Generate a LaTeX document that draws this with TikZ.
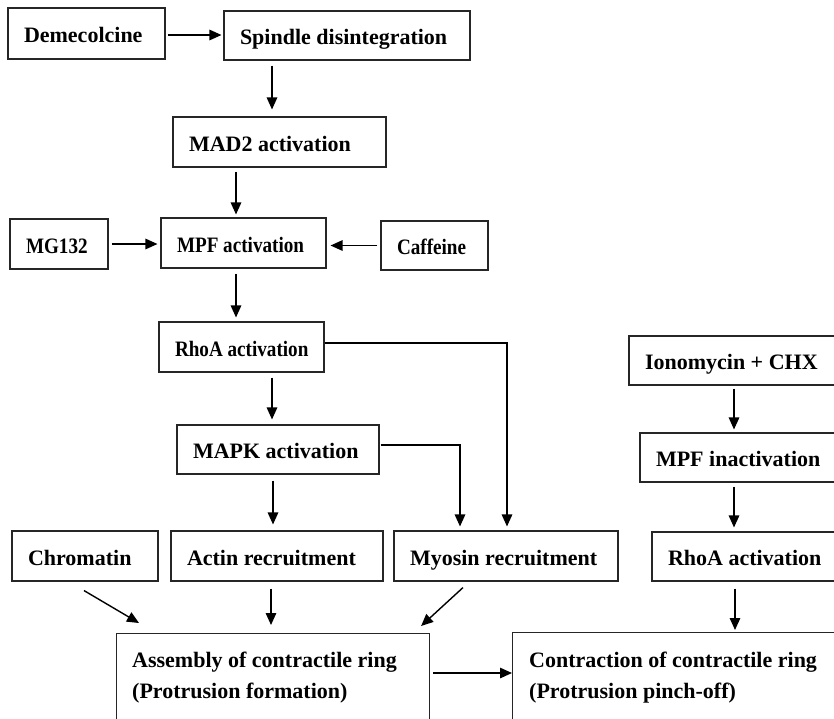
\documentclass[tikz,border=0pt]{standalone}
\usepackage{fontspec}
\setmainfont{Liberation Serif}
\usetikzlibrary{arrows.meta,calc}
\tikzset{
  box/.style={draw=black!85, line width=1.1pt, inner xsep=16pt, inner ysep=0pt, align=flush left,
              text height=18pt, text depth=0pt,
              font=\fontsize{22}{31}\selectfont\bfseries},
  arr/.style={line width=1.4pt, -{Triangle[length=12pt,width=10.5pt]}, shorten <=4pt, shorten >=4pt},
  lbl/.style={anchor=north west, inner sep=0pt, align=flush left, font=\fontsize{22}{31}\selectfont\bfseries}
}
\newcommand{\narrowtxt}[1]{\scalebox{0.87}[1]{#1}}
\begin{document}
\begin{tikzpicture}[x=1pt,y=-1pt]
\useasboundingbox (0,0) rectangle (834,718);
\clip (0,0) rectangle (834,718);
\fill[white] (0,0) rectangle (834,718);

\node[box, text width=125pt, minimum height=51pt] (dem) at (86.5,33.5) {Demecolcine};
\node[box, text width=214pt, minimum height=49pt] (spin) at (347,35.5) {Spindle disintegration};
\node[box, text width=181pt, minimum height=50pt] (mad) at (279.5,142) {MAD2 activation};
\node[box, text width=66pt, minimum height=50pt] (mg) at (59,244) {\narrowtxt{MG132}};
\node[box, text width=133pt, minimum height=50pt] (mpf) at (243.5,243) {\narrowtxt{MPF activation}};
\node[box, text width=75pt, minimum height=49pt] (caf) at (434.5,245.5) {\narrowtxt{Caffeine}};
\node[box, text width=133pt, minimum height=50pt] (rhoa) at (241.5,347) {\narrowtxt{RhoA activation}};
\node[box, text width=170pt, minimum height=49pt] (mapk) at (278,449.5) {MAPK activation};
\node[box, text width=189pt, minimum height=49pt] (iono) at (739.5,360.5) {Ionomycin + CHX};
\node[box, text width=178pt, minimum height=49pt] (mpfi) at (745,457.5) {MPF inactivation};
\node[box, text width=114pt, minimum height=50pt] (chrom) at (85,556) {Chromatin};
\node[box, text width=180pt, minimum height=50pt] (actin) at (277,556) {Actin recruitment};
\node[box, text width=192pt, minimum height=50pt] (myo) at (506,556) {Myosin recruitment};
\node[box, text width=166pt, minimum height=49pt] (rhoa2) at (751,556.5) {RhoA activation};

\node[draw=black!85, line width=1.1pt, anchor=north west, minimum width=313pt, minimum height=127pt, inner sep=0pt] (asm) at (116,633) {};
\node[draw=black!85, line width=1.1pt, anchor=north west, minimum width=338pt, minimum height=128pt, inner sep=0pt] (con) at (512,632) {};
\node[lbl] (asmtxt) at (132,652) {Assembly of contractile ring\\(Protrusion formation)};
\node[lbl] (contxt) at (529,652) {Contraction of contractile ring\\(Protrusion pinch-off)};

\draw[arr, shorten <=2pt, shorten >=2pt] (dem.east |- 0,35) -- (spin.west |- 0,35);
\draw[arr, shorten <=5pt, shorten >=7pt] (spin.south -| 272,0) -- (mad.north -| 272,0);
\draw[arr, shorten >=3pt] (mad.south -| 236,0) -- (mpf.north -| 236,0);
\draw[arr, shorten <=3pt, shorten >=3pt] (mg.east) -- (mg.east -| mpf.west);
\draw[arr, shorten <=3pt, shorten >=4pt] (caf.west) -- (caf.west -| mpf.east);
\draw[arr, shorten <=5pt] (mpf.south -| 236,0) -- (rhoa.north -| 236,0);
\draw[arr, shorten <=5pt, shorten >=5pt] (rhoa.south -| 272,0) -- (mapk.north -| 272,0);
\draw[arr, shorten <=0pt] (rhoa.east |- 0,343) -| (myo.north -| 507,0);
\draw[arr, shorten <=1pt] (mapk.east |- 0,445) -| (myo.north -| 460,0);
\draw[arr, shorten <=6pt, shorten >=6pt] (mapk.south -| 273,0) -- (actin.north -| 273,0);
\draw[arr, shorten <=0pt, shorten >=0pt] ([shift={(-1,9)}]chrom.south) -- ([shift={(23,-10)}]asm.north west);
\draw[arr, shorten <=7pt, shorten >=8pt] (actin.south -| 271,0) -- (asm.north -| 271,0);
\draw[arr, shorten <=0pt, shorten >=0pt] ([shift={(-43,6)}]myo.south) -- ([shift={(-9,-7)}]asm.north east);
\draw[arr, shorten <=3pt, shorten >=3pt] (iono.south -| 734,0) -- (mpfi.north -| 734,0);
\draw[arr] (mpfi.south -| 734,0) -- (rhoa2.north -| 734,0);
\draw[arr, shorten <=7pt, shorten >=2pt] (rhoa2.south -| 735,0) -- (con.north -| 735,0);
\draw[arr, shorten <=3pt, shorten >=0pt] (asm.east |- 0,673) -- (con.west |- 0,673);
\end{tikzpicture}
\end{document}
